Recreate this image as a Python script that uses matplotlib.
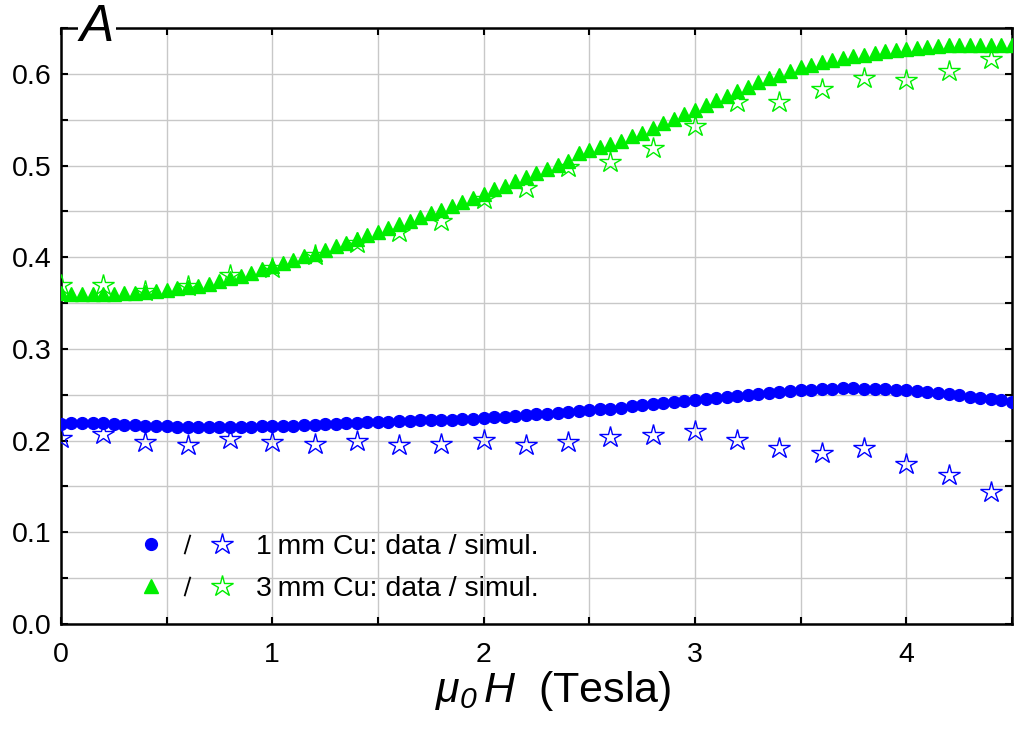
import numpy as np
import matplotlib
matplotlib.use("Agg")
import matplotlib.pyplot as plt
from matplotlib.lines import Line2D
from matplotlib.path import Path
from matplotlib.legend_handler import HandlerTuple
from matplotlib.ticker import MultipleLocator

plt.rcParams['font.family'] = ['Liberation Sans', 'DejaVu Sans']
plt.rcParams['mathtext.fontset'] = 'custom'
plt.rcParams['mathtext.rm'] = 'Liberation Sans'
plt.rcParams['mathtext.it'] = 'Liberation Sans:italic'
# italic digits for the subscript
plt.rcParams['mathtext.bf'] = 'Liberation Sans:italic'

# field values (Tesla)
field_data = np.arange(91) * 0.05
field_sim = np.arange(23) * 0.2

# 1 mm Cu, measured
cu1_data = [0.218, 0.219, 0.219, 0.219, 0.219, 0.218, 0.217, 0.217, 0.216, 0.216,
            0.216, 0.215, 0.215, 0.215, 0.215, 0.215, 0.215, 0.215, 0.215, 0.216,
            0.216, 0.216, 0.216, 0.217, 0.217, 0.218, 0.218, 0.219, 0.219, 0.220,
            0.220, 0.220, 0.221, 0.221, 0.222, 0.222, 0.223, 0.223, 0.224, 0.224,
            0.225, 0.226, 0.226, 0.227, 0.228, 0.229, 0.229, 0.230, 0.231, 0.232,
            0.233, 0.234, 0.235, 0.236, 0.238, 0.239, 0.240, 0.241, 0.242, 0.243,
            0.244, 0.245, 0.246, 0.248, 0.249, 0.250, 0.251, 0.252, 0.253, 0.254,
            0.255, 0.255, 0.256, 0.256, 0.257, 0.257, 0.256, 0.256, 0.256, 0.255,
            0.255, 0.254, 0.253, 0.252, 0.251, 0.250, 0.248, 0.247, 0.245, 0.244,
            0.242]

# 3 mm Cu, measured
cu3_data = [0.361, 0.360, 0.360, 0.360, 0.360, 0.360, 0.361, 0.361, 0.362, 0.363,
            0.364, 0.366, 0.367, 0.369, 0.371, 0.374, 0.377, 0.380, 0.383, 0.387,
            0.390, 0.394, 0.397, 0.401, 0.404, 0.408, 0.412, 0.416, 0.420, 0.424,
            0.428, 0.432, 0.436, 0.440, 0.444, 0.448, 0.452, 0.456, 0.460, 0.465,
            0.469, 0.474, 0.478, 0.483, 0.487, 0.492, 0.496, 0.501, 0.505, 0.514,
            0.517, 0.520, 0.523, 0.527, 0.532, 0.536, 0.541, 0.546, 0.551, 0.556,
            0.561, 0.566, 0.571, 0.576, 0.581, 0.586, 0.591, 0.595, 0.599, 0.603,
            0.607, 0.610, 0.613, 0.615, 0.617, 0.619, 0.621, 0.623, 0.625, 0.626,
            0.627, 0.628, 0.629, 0.630, 0.631, 0.632, 0.632, 0.631, 0.632, 0.631,
            0.631]

# simulations
cu1_sim = [0.203, 0.207, 0.199, 0.195, 0.202, 0.198, 0.196, 0.200, 0.195, 0.196,
           0.201, 0.195, 0.198, 0.204, 0.206, 0.210, 0.201, 0.192, 0.186, 0.192,
           0.175, 0.162, 0.144]
cu3_sim = [0.370, 0.370, 0.363, 0.369, 0.381, 0.388, 0.402, 0.416, 0.427, 0.440,
           0.463, 0.476, 0.498, 0.504, 0.519, 0.543, 0.569, 0.569, 0.584, 0.595,
           0.593, 0.603, 0.616]

blue = '#0000ff'
green = '#00ee00'

fig = plt.figure(figsize=(10.15, 7.31), dpi=100)
ax = fig.add_axes([0.060, 0.1464, 0.937, 0.8153])

ax.plot(field_data, cu1_data, 'o', color=blue, ms=8.5, mec=blue, zorder=3)
ax.plot(field_data, cu3_data, '^', color=green, ms=9.5, mec=green, zorder=3)
ax.plot(field_sim, cu1_sim, '*', color=blue, mfc='none', ms=16, mew=1.0, zorder=4)
ax.plot(field_sim, cu3_sim, '*', color=green, mfc='none', ms=16, mew=1.0, zorder=4)

ax.set_xlim(0, 4.5)
ax.set_ylim(0, 0.65)
ax.xaxis.set_major_locator(MultipleLocator(1))
ax.xaxis.set_minor_locator(MultipleLocator(0.5))
ax.yaxis.set_major_locator(MultipleLocator(0.1))
ax.yaxis.set_minor_locator(MultipleLocator(0.05))
ax.yaxis.set_major_formatter(plt.FormatStrFormatter('%.1f'))
ax.grid(True, which='both', color='#c8c8c8', lw=1.0)
ax.set_axisbelow(True)
ax.tick_params(which='both', direction='in', top=True, right=True, labelsize=20.5,
               width=1.5, length=5)
ax.tick_params(axis='y', pad=7)
ax.tick_params(axis='x', pad=13)
for s in ax.spines.values():
    s.set_linewidth(1.8)

ax.set_xlabel(r'$\mu_{\mathbf{0}}\,H$  (Tesla)', fontsize=31, labelpad=1)
ax.xaxis.label.set_x(0.518)

ax.text(0.02, 1.0, 'A', transform=ax.transAxes, fontsize=37, style='italic',
        ha='left', va='center', zorder=10,
        bbox=dict(facecolor='white', edgecolor='none', pad=1))

slash_path = Path([(-0.3, -1.0), (0.3, 1.0)])
slash = Line2D([], [], ls='none', marker=slash_path, color='black', mfc='none',
               ms=14, mew=1.3)
h1 = (Line2D([], [], ls='none', marker='o', color=blue, ms=8.5), slash,
      Line2D([], [], ls='none', marker='*', color=blue, mfc='none', ms=16, mew=1.0))
h2 = (Line2D([], [], ls='none', marker='^', color=green, ms=9.5), slash,
      Line2D([], [], ls='none', marker='*', color=green, mfc='none', ms=16, mew=1.0))
ax.legend([h1, h2], ['1\u2009mm Cu: data / simul.', '3\u2009mm Cu: data / simul.'],
          handler_map={tuple: HandlerTuple(ndivide=None, pad=0)},
          loc='center left', bbox_to_anchor=(0.061, 0.094), frameon=False,
          borderpad=0, fontsize=20.5, handlelength=3.75, handletextpad=0.55,
          labelspacing=0.55)

fig.savefig('out.png', dpi=100)
